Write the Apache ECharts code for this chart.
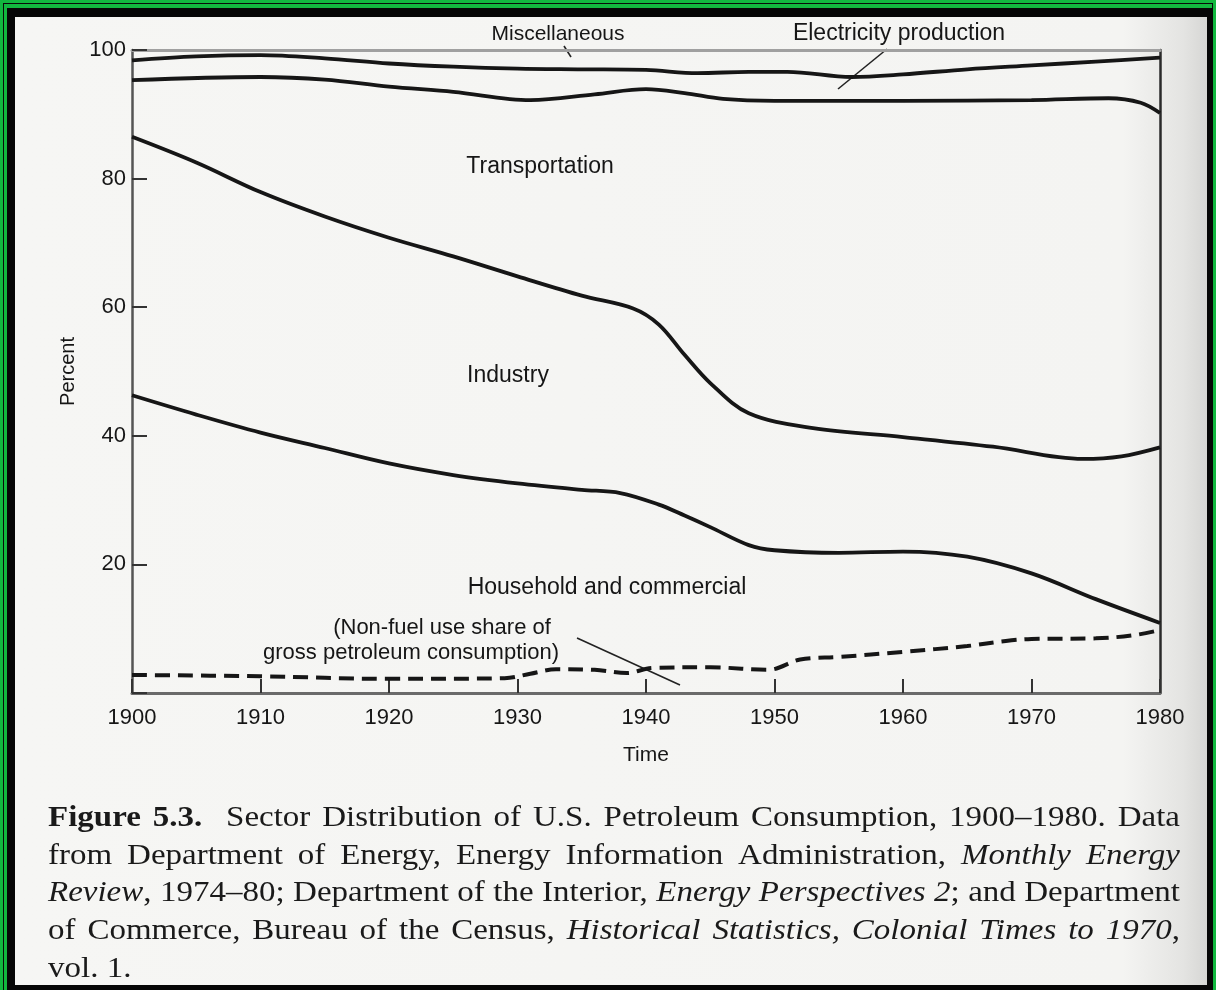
<!DOCTYPE html>
<html>
<head>
<meta charset="utf-8">
<script src="https://cdn.jsdelivr.net/npm/echarts@6/dist/echarts.min.js"></script>
<style>
html, body { margin: 0; padding: 0; background: #12b83f; }
#frame { position: absolute; left: 0; top: 0; width: 1216px; height: 990px; background: #12b83f; overflow: hidden; }
#thin { position: absolute; left: 3px; top: 3px; width: 1210px; height: 1000px; border: 1px solid #0a0a0a; box-sizing: border-box; }
#black { position: absolute; left: 7px; top: 8px; width: 1206px; height: 1000px; background: #060606; }
#page { position: absolute; left: 15px; top: 17px; width: 1192px; height: 968px;
  background: linear-gradient(to right, #f6f6f4 0%, #f4f4f2 93%, #e4e4e2 98%, #d6d6d4 100%); }
#main { position: absolute; left: 0; top: 0; width: 1216px; height: 990px; }
</style>
</head>
<body>
<div id="frame">
  <div id="thin"></div>
  <div id="black"></div>
  <div id="page"></div>
  <div id="main"></div>
</div>
<script>
// boundary between Miscellaneous and Electricity production
var miscYears = [1900, 1905, 1910, 1915, 1920, 1925, 1930, 1935, 1940, 1944, 1948, 1951, 1956, 1960, 1965, 1970, 1975, 1980];
var miscVals  = [98.4, 99.0, 99.2, 98.7, 97.9, 97.4, 97.1, 97.0, 96.9, 96.4, 96.6, 96.6, 95.8, 96.2, 97.0, 97.6, 98.2, 98.8];

// boundary between Electricity production and Transportation
var elecYears = [1900, 1910, 1915, 1920, 1925, 1931, 1936, 1940, 1943, 1946, 1950, 1960, 1970, 1976, 1978.5, 1980];
var elecVals  = [95.3, 95.8, 95.4, 94.3, 93.5, 92.2, 93.1, 93.9, 93.3, 92.4, 92.1, 92.1, 92.2, 92.5, 91.8, 90.2];

// boundary between Transportation and Industry
var transYears = [1900, 1905, 1910, 1915, 1920, 1925, 1930, 1935, 1939, 1941, 1943, 1945, 1948, 1953, 1960, 1967, 1974, 1977, 1980];
var transVals  = [86.5, 82.5, 77.9, 74.1, 70.8, 67.9, 64.8, 61.8, 59.8, 57.3, 52.6, 48.2, 43.5, 41.2, 39.8, 38.3, 36.4, 36.8, 38.2];

// boundary between Industry and Household and commercial
var indYears = [1900, 1905, 1910, 1915, 1920, 1925, 1930, 1935, 1938, 1941, 1943, 1945, 1948, 1950, 1955, 1960, 1965, 1970, 1975, 1980];
var indVals  = [46.3, 43.3, 40.5, 38.1, 35.7, 33.9, 32.6, 31.6, 31.1, 29.3, 27.6, 25.8, 23.0, 22.2, 21.8, 22.0, 21.2, 18.6, 14.6, 10.9];

// non-fuel use share (dashed)
var nonFuelYears = [1900, 1910, 1920, 1929, 1931, 1933, 1936, 1938.5, 1940.5, 1945, 1949.5, 1952, 1955, 1960, 1965, 1968, 1970, 1975, 1978, 1980];
var nonFuelVals  = [2.8, 2.6, 2.2, 2.3, 3.0, 3.7, 3.6, 3.1, 3.9, 4.0, 3.6, 5.2, 5.6, 6.4, 7.3, 8.1, 8.4, 8.5, 9.0, 9.8];

var yearTicks = [1900, 1910, 1920, 1930, 1940, 1950, 1960, 1970, 1980];
var percentTicks = [20, 40, 60, 80, 100];

var captionLines = [
  '#Figure 5.3.#  Sector Distribution of U.S. Petroleum Consumption, 1900\u20131980. Data',
  'from Department of Energy, Energy Information Administration, _Monthly Energy_',
  '_Review_, 1974\u201380; Department of the Interior, _Energy Perspectives 2_; and Department',
  'of Commerce, Bureau of the Census, _Historical Statistics, Colonial Times to 1970_,',
  'vol. 1.'
];

function pairs(xs, ys) {
  return xs.map(function (x, i) { return [x, ys[i]]; });
}

var sans = '"Liberation Sans", Arial, sans-serif';
var serif = '"Liberation Serif", "Times New Roman", serif';
var ink = '#161616';

function boundary(name, xs, ys, dashed) {
  return {
    name: name,
    type: 'line',
    data: pairs(xs, ys),
    smooth: 0.35,
    symbol: 'none',
    silent: true,
    lineStyle: { color: ink, width: dashed ? 4 : 3.8, type: dashed ? [15, 8] : 'solid' }
  };
}

// caption: justified lines, word by word, glyphs a little widened
var capSize = 30, capStretch = 1.1;
var capLeft = 48, capRight = 1180;
var capY = [818, 856, 893, 931, 969];
var measureCtx = document.createElement('canvas').getContext('2d');
function fontStr(bold, italic) {
  return (italic ? 'italic ' : 'normal ') + (bold ? 'bold ' : 'normal ') + capSize + 'px ' + serif;
}
var captionEls = [];
var bold = false, italic = false;
captionLines.forEach(function (line, li) {
  var words = line.split(' ').map(function (w) {
    var pieces = [], cur = '';
    for (var k = 0; k < w.length; k++) {
      var c = w[k];
      if (c === '#' || c === '_') {
        if (cur) pieces.push({ t: cur, b: bold, i: italic });
        cur = '';
        if (c === '#') bold = !bold; else italic = !italic;
      } else cur += c;
    }
    if (cur) pieces.push({ t: cur, b: bold, i: italic });
    var wsum = 0;
    pieces.forEach(function (p) {
      measureCtx.font = fontStr(p.b, p.i);
      p.w = measureCtx.measureText(p.t).width * capStretch;
      wsum += p.w;
    });
    return { pieces: pieces, w: wsum };
  });
  var total = words.reduce(function (s, w) { return s + w.w; }, 0);
  measureCtx.font = fontStr(false, false);
  var gap = measureCtx.measureText(' ').width * capStretch;
  if (li < captionLines.length - 1) gap = (capRight - capLeft - total) / (words.length - 1);
  var x = capLeft;
  words.forEach(function (w) {
    w.pieces.forEach(function (p) {
      captionEls.push({
        type: 'text', x: x, y: capY[li], scaleX: capStretch, silent: true,
        style: {
          text: p.t, fill: '#1a1a1a', fontSize: capSize, fontFamily: serif,
          fontStyle: p.i ? 'italic' : 'normal', fontWeight: p.b ? 'bold' : 'normal',
          verticalAlign: 'middle', align: 'left'
        }
      });
      x += p.w;
    });
    x += gap;
  });
});

function label(text, cx, cy, size) {
  return {
    type: 'text', x: cx, y: cy, silent: true,
    style: { text: text, fill: ink, fontSize: size || 22, fontFamily: sans, align: 'center', verticalAlign: 'middle' }
  };
}
function pointer(x1, y1, x2, y2) {
  return { type: 'line', silent: true, shape: { x1: x1, y1: y1, x2: x2, y2: y2 }, style: { stroke: '#222', lineWidth: 1.6 } };
}

var annotations = [
  label('Miscellaneous', 558, 34, 21),
  label('Electricity production', 899, 34, 23),
  label('Transportation', 540, 167, 23),
  label('Industry', 508, 376, 23),
  label('Household and commercial', 607, 588, 23),
  label('(Non-fuel use share of', 442, 628, 22),
  label('gross petroleum consumption)', 411, 653, 22),
  pointer(564, 46, 571, 57),
  pointer(887, 49, 838, 89),
  pointer(577, 638, 680, 685)
];

var chart = echarts.init(document.getElementById('main'));
chart.setOption({
  backgroundColor: 'transparent',
  animation: false,
  grid: { left: 132, right: 56, top: 50, bottom: 297 },
  xAxis: [{
    type: 'value', min: 1900, max: 1980, interval: 10, position: 'bottom',
    axisLine: { show: true, onZero: false, lineStyle: { color: '#6a6a6a', width: 3 } },
    axisTick: { show: true, inside: true, length: 14, lineStyle: { color: '#333', width: 2 } },
    axisLabel: {
      fontSize: 22, color: ink, fontFamily: sans, margin: 14,
      formatter: function (v) { return yearTicks.indexOf(v) >= 0 ? String(v) : ''; }
    },
    splitLine: { show: false },
    name: 'Time', nameLocation: 'middle', nameGap: 52,
    nameTextStyle: { fontSize: 21, color: ink, fontFamily: sans }
  }, {
    type: 'value', min: 1900, max: 1980, position: 'top',
    axisLine: { show: true, onZero: false, lineStyle: { color: '#a0a0a0', width: 3 } },
    axisTick: { show: false }, axisLabel: { show: false }, splitLine: { show: false }
  }],
  yAxis: [{
    type: 'value', min: 0, max: 100, interval: 20, position: 'left',
    axisLine: { show: true, onZero: false, lineStyle: { color: '#555', width: 2.5 } },
    axisTick: { show: true, inside: true, length: 15, lineStyle: { color: '#333', width: 2 } },
    axisLabel: {
      fontSize: 22, color: ink, fontFamily: sans, margin: 6,
      formatter: function (v) { return percentTicks.indexOf(v) >= 0 ? String(v) : ''; }
    },
    splitLine: { show: false },
    name: 'Percent', nameLocation: 'middle', nameRotate: 90, nameGap: 52,
    nameTextStyle: { fontSize: 20, color: ink, fontFamily: sans }
  }, {
    type: 'value', min: 0, max: 100, position: 'right',
    axisLine: { show: true, onZero: false, lineStyle: { color: '#2a2a2a', width: 2.5 } },
    axisTick: { show: false }, axisLabel: { show: false }, splitLine: { show: false }
  }],
  series: [
    boundary('Miscellaneous / Electricity', miscYears, miscVals),
    boundary('Electricity / Transportation', elecYears, elecVals),
    boundary('Transportation / Industry', transYears, transVals),
    boundary('Industry / Household', indYears, indVals),
    boundary('Non-fuel use share', nonFuelYears, nonFuelVals, true)
  ],
  graphic: annotations.concat(captionEls)
});
</script>
</body>
</html>
